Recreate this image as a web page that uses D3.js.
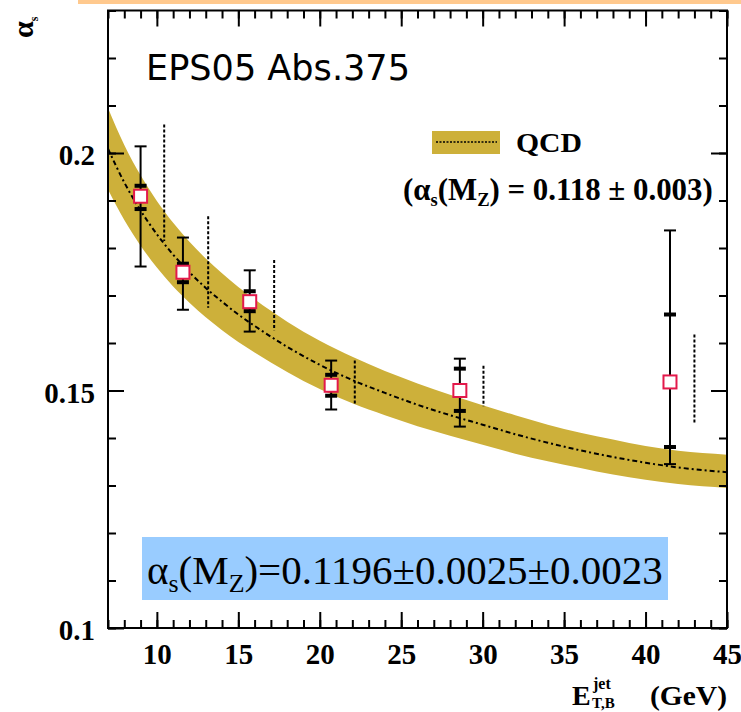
<!DOCTYPE html>
<html><head><meta charset="utf-8">
<script src="https://cdn.jsdelivr.net/npm/d3@7"></script>
<style>body{margin:0;background:#fff}svg{display:block}</style>
</head><body>
<svg id="c" width="741" height="712"></svg>
<script>
// ---- data ----
const bandE      = [7, 8, 9, 10, 11, 12, 13, 14, 15, 16, 18, 20, 22, 24, 26, 28, 30, 32, 34, 36, 38, 40, 42, 45];
const bandUpper  = [.2095,.2017,.1953,.1899,.1853,.1813,.1778,.1747,.1718,.1692,.1645,.1605,.1571,.1541,.1515,.1491,.1469,.1448,.1428,.1411,.1397,.1383,.1373,.1365];
const bandLower  = [.1923,.1859,.1805,.1759,.1719,.1685,.1654,.1627,.1602,.1580,.1539,.1503,.1473,.1448,.1425,.1405,.1386,.1367,.1351,.1337,.1323,.1312,.1303,.1295];
const bandCenter = [.2009,.1938,.1879,.1829,.1786,.1749,.1716,.1687,.1660,.1636,.1592,.1554,.1522,.1495,.1470,.1448,.1428,.1408,.1390,.1374,.1360,.1348,.1338,.1328];

const pointE     = [9.0, 11.6, 15.7, 20.7, 28.6, 41.5];
const pointAlpha = [.1909, .1749, .1687, .1511, .1500, .1518];
const statHi     = [.1931, .1767, .1709, .1533, .1546, .1660];
const statLo     = [.1882, .1728, .1667, .1489, .1457, .1381];
const totHi      = [.2014, .1822, .1753, .1563, .1567, .1837];
const totLo      = [.1761, .1670, .1624, .1460, .1424, .1345];

const theoE  = [10.45, 13.15, 17.2, 22.15, 30.05, 43.0];
const theoHi = [.2060, .1867, .1775, .1563, .1552, .1618];
const theoLo = [.1815, .1674, .1627, .1472, .1467, .1432];

const xTicks = [10, 15, 20, 25, 30, 35, 40, 45];
const yTicks = [0.1, 0.15, 0.2];
const yTickLabels = ["0.1", "0.15", "0.2"];

// ---- drawing ----
const svg = d3.select("#c");
const x = d3.scaleLinear([7, 45], [108, 727]);
const y = d3.scaleLinear([0.1, 0.23], [628, 10.5]);
const serif = "'Liberation Serif','Times New Roman',serif";
const gold = "#CDB03A";

// orange strip at top
svg.append("rect").attr("x", 78).attr("y", 0).attr("width", 663).attr("height", 4).attr("fill", "#FFC98E");

const band = bandE.map((e, i) => ({e, hi: bandUpper[i], lo: bandLower[i], c: bandCenter[i]}));
svg.append("path").datum(band)
  .attr("d", d3.area().x(d => x(d.e)).y0(d => y(d.lo)).y1(d => y(d.hi)).curve(d3.curveMonotoneX))
  .attr("fill", gold);
svg.append("path").datum(band)
  .attr("d", d3.line().x(d => x(d.e)).y(d => y(d.c)).curve(d3.curveMonotoneX))
  .attr("fill", "none").attr("stroke", "#000").attr("stroke-width", 2)
  .attr("stroke-dasharray", "5,3,2,3");

// theory-uncertainty dashed verticals
svg.selectAll("line.theo").data(theoE).join("line").attr("class", "theo")
  .attr("x1", d => x(d)).attr("x2", d => x(d))
  .attr("y1", (d, i) => y(theoHi[i])).attr("y2", (d, i) => y(theoLo[i]))
  .attr("stroke", "#000").attr("stroke-width", 2).attr("stroke-dasharray", "3,2");

// error bars
const pts = pointE.map((e, i) => ({e, a: pointAlpha[i], sh: statHi[i], sl: statLo[i], th: totHi[i], tl: totLo[i]}));
const eb = svg.append("g").attr("stroke", "#000");
pts.forEach(p => {
  const cx = x(p.e);
  eb.append("line").attr("x1", cx).attr("x2", cx).attr("y1", y(p.th)).attr("y2", y(p.tl)).attr("stroke-width", 2);
  [p.th, p.tl].forEach(v => eb.append("line").attr("x1", cx - 6).attr("x2", cx + 6).attr("y1", y(v)).attr("y2", y(v)).attr("stroke-width", 2));
  [p.sh, p.sl].forEach(v => eb.append("line").attr("x1", cx - 6).attr("x2", cx + 6).attr("y1", y(v)).attr("y2", y(v)).attr("stroke-width", 4));
});
svg.selectAll("rect.pt").data(pts).join("rect").attr("class", "pt")
  .attr("x", d => x(d.e) - 6.5).attr("y", d => y(d.a) - 6.5).attr("width", 13).attr("height", 13)
  .attr("fill", "#fff").attr("stroke", "#E3194B").attr("stroke-width", 2);

// frame and ticks
const minorX = d3.range(7, 45.5, 1);
const minorY = d3.range(0.1, 0.2305, 0.01);
function axisG(axis, tx, ty) {
  const g = svg.append("g").attr("transform", `translate(${tx},${ty})`).call(axis);
  g.select(".domain").remove();
  g.selectAll("line").attr("stroke", "#000").attr("stroke-width", 2);
  return g;
}
const gx = axisG(d3.axisBottom(x).tickValues(xTicks).tickSize(-16).tickSizeOuter(0).tickPadding(15).tickFormat(d => d), 0, 628);
axisG(d3.axisBottom(x).tickValues(minorX).tickSize(-8).tickSizeOuter(0).tickFormat(""), 0, 628);
axisG(d3.axisTop(x).tickValues(xTicks).tickSize(-16).tickSizeOuter(0).tickFormat(""), 0, 10.5);
axisG(d3.axisTop(x).tickValues(minorX).tickSize(-8).tickSizeOuter(0).tickFormat(""), 0, 10.5);
const gy = axisG(d3.axisLeft(y).tickValues(yTicks).tickSize(-16).tickSizeOuter(0).tickPadding(13).tickFormat((d, i) => yTickLabels[i]), 108, 0);
axisG(d3.axisLeft(y).tickValues(minorY).tickSize(-8).tickSizeOuter(0).tickFormat(""), 108, 0);
axisG(d3.axisRight(y).tickValues(yTicks).tickSize(-16).tickSizeOuter(0).tickFormat(""), 727, 0);
axisG(d3.axisRight(y).tickValues(minorY).tickSize(-8).tickSizeOuter(0).tickFormat(""), 727, 0);
[gx, gy].forEach(g => g.selectAll("text").attr("font-family", serif).attr("font-weight", "bold")
  .attr("font-size", 29).attr("fill", "#000"));
gy.selectAll("text").attr("dy", "0.4em");

svg.append("rect").attr("x", 108).attr("y", 10.5).attr("width", 619).attr("height", 617.5)
  .attr("fill", "none").attr("stroke", "#000").attr("stroke-width", 2);

// y-axis title (rotated alpha_s)
const yt = svg.append("text").attr("transform", "translate(33,38) rotate(-90)")
  .attr("font-family", serif).attr("font-weight", "bold").attr("font-size", 30);
yt.append("tspan").text("α");
yt.append("tspan").attr("font-size", 12).attr("dy", 5).text("s");

// x-axis title
const xtG = svg.append("g").attr("font-family", serif).attr("font-weight", "bold").attr("fill", "#000");
xtG.append("text").attr("x", 572).attr("y", 705).attr("font-size", 28).text("E");
xtG.append("text").attr("x", 593).attr("y", 689).attr("font-size", 16).text("jet");
xtG.append("text").attr("x", 592).attr("y", 708).attr("font-size", 15).text("T,B");
xtG.append("text").attr("x", 650).attr("y", 705).attr("font-size", 27)
  .attr("textLength", 77).attr("lengthAdjust", "spacingAndGlyphs").text("(GeV)");

// label EPS05
svg.append("text").attr("x", 146).attr("y", 80).attr("font-family", "'DejaVu Sans',sans-serif")
  .attr("font-size", 36).attr("textLength", 264).attr("lengthAdjust", "spacingAndGlyphs")
  .text("EPS05 Abs.375");

// legend
svg.append("rect").attr("x", 432).attr("y", 131).attr("width", 68).attr("height", 23).attr("fill", gold);
svg.append("line").attr("x1", 436).attr("x2", 497).attr("y1", 142).attr("y2", 142)
  .attr("stroke", "#000").attr("stroke-width", 1.5).attr("stroke-dasharray", "2,1.5");
svg.append("text").attr("x", 516).attr("y", 152).attr("font-family", serif).attr("font-weight", "bold")
  .attr("font-size", 27).attr("textLength", 66).attr("lengthAdjust", "spacingAndGlyphs").text("QCD");

function fitWidth(t, w) {
  const cur = t.node().getBBox().width;
  const fs = +t.attr("font-size");
  t.attr("font-size", fs * w / cur);
  t.selectAll("tspan[data-sub]").attr("font-size", function () { return +this.getAttribute("data-sub") * w / cur; });
}
const lg = svg.append("text").attr("x", 403).attr("y", 200).attr("font-family", serif)
  .attr("font-weight", "bold").attr("font-size", 25);
lg.append("tspan").text("(α");
lg.append("tspan").attr("data-sub", 15).attr("font-size", 15).attr("dy", 6).text("s");
lg.append("tspan").attr("dy", -6).text("(M");
lg.append("tspan").attr("data-sub", 15).attr("font-size", 15).attr("dy", 6).text("Z");
lg.append("tspan").attr("dy", -6).text(") = 0.118 ± 0.003)");
fitWidth(lg, 310);

// blue result box
svg.append("rect").attr("x", 142).attr("y", 537).attr("width", 526).attr("height", 63).attr("fill", "#99CCFF");
const bt = svg.append("text").attr("x", 147).attr("y", 584).attr("font-family", serif).attr("font-size", 38);
bt.append("tspan").text("α");
bt.append("tspan").attr("data-sub", 24).attr("font-size", 24).attr("dy", 8).text("s");
bt.append("tspan").attr("dy", -8).text("(M");
bt.append("tspan").attr("data-sub", 24).attr("font-size", 24).attr("dy", 8).text("Z");
bt.append("tspan").attr("dy", -8).text(")=0.1196±0.0025±0.0023");
fitWidth(bt, 516);
</script>
</body></html>
